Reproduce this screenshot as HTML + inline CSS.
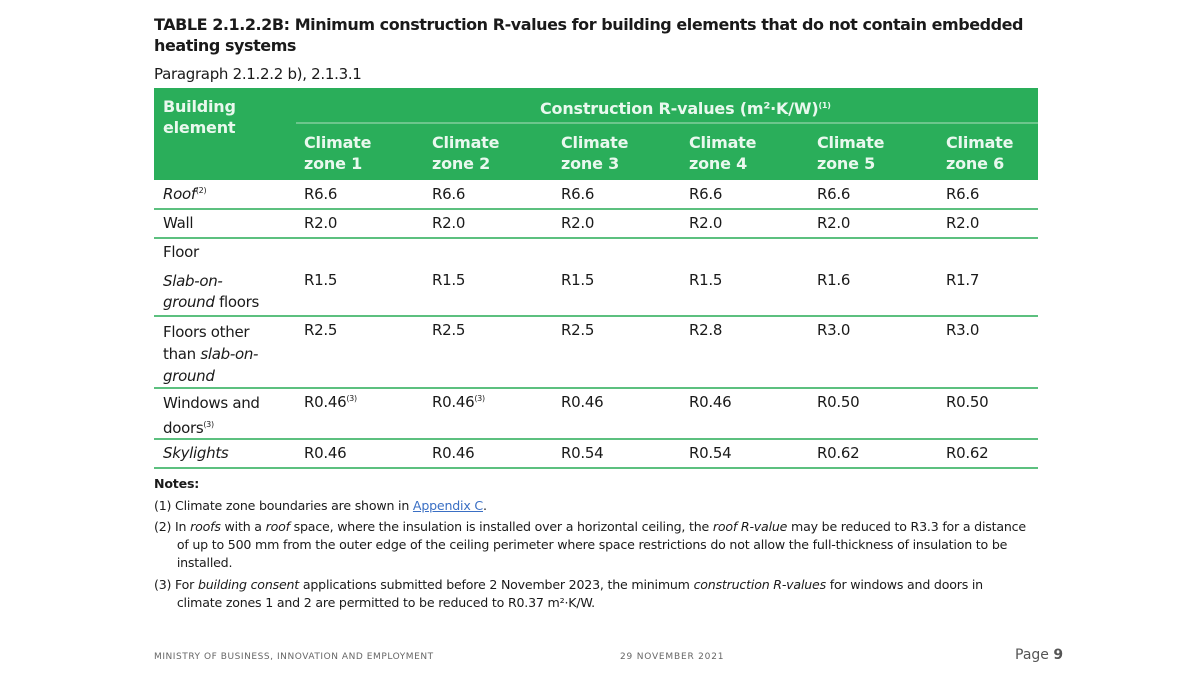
<!DOCTYPE html>
<html><head><meta charset="utf-8"><style>
body{margin:0;width:1200px;height:675px;background:#fff;font-family:"DejaVu Sans","Liberation Sans",sans-serif;color:#1a1a1a;position:relative;overflow:hidden}
.a{position:absolute;white-space:nowrap}
.t{font-size:15px;letter-spacing:-0.3px}
.h{font-size:16px;font-weight:bold;color:#e9f8ee;letter-spacing:-0.2px;line-height:21px}
.n{font-size:12.6px;letter-spacing:-0.2px}
.l{position:absolute;left:154px;width:884px;height:2px;background:#5cc07f}
sup{font-size:8px;vertical-align:6px}
</style></head><body>
<div class="a" style="left:154px;top:14px;font-size:16px;font-weight:bold;line-height:21px;letter-spacing:-0.45px">TABLE 2.1.2.2B: <span style="font-weight:600">Minimum construction R-values for building elements that do not contain embedded<br>heating systems</span></div>
<div class="a t" style="left:154px;top:65px">Paragraph 2.1.2.2 b), 2.1.3.1</div>
<div class="a" style="left:154px;top:88px;width:884px;height:92px;background:#2aae5a"></div>
<div class="a" style="left:296px;top:122px;width:742px;height:2px;background:#6cc68c"></div>
<div class="a h" style="left:163px;top:96px">Building<br>element</div>
<div class="a h" style="left:540px;top:95px">Construction R-values (m²·K/W)<sup>(1)</sup></div>
<div class="a h" style="left:304px;top:132px">Climate<br>zone 1</div>
<div class="a h" style="left:432px;top:132px">Climate<br>zone 2</div>
<div class="a h" style="left:561px;top:132px">Climate<br>zone 3</div>
<div class="a h" style="left:689px;top:132px">Climate<br>zone 4</div>
<div class="a h" style="left:817px;top:132px">Climate<br>zone 5</div>
<div class="a h" style="left:946px;top:132px">Climate<br>zone 6</div>
<div class="l" style="top:208px"></div><div class="l" style="top:237px"></div><div class="l" style="top:315px"></div><div class="l" style="top:387px"></div><div class="l" style="top:438px"></div><div class="l" style="top:467px"></div>
<div class="a t" style="left:163px;top:185px"><i>Roof</i><sup>(2)</sup></div>
<div class="a t" style="left:163px;top:214px">Wall</div>
<div class="a t" style="left:163px;top:243px">Floor</div>
<div class="a t" style="left:163px;top:271px;line-height:21px"><i>Slab-on-<br>ground</i> floors</div>
<div class="a t" style="left:163px;top:321px;line-height:22px">Floors other<br>than <i>slab-on-<br>ground</i></div>
<div class="a t" style="left:163px;top:393px;line-height:21px">Windows and<br>doors<sup>(3)</sup></div>
<div class="a t" style="left:163px;top:444px"><i>Skylights</i></div>
<div class="a t" style="left:304px;top:185px">R6.6</div><div class="a t" style="left:432px;top:185px">R6.6</div><div class="a t" style="left:561px;top:185px">R6.6</div><div class="a t" style="left:689px;top:185px">R6.6</div><div class="a t" style="left:817px;top:185px">R6.6</div><div class="a t" style="left:946px;top:185px">R6.6</div>
<div class="a t" style="left:304px;top:214px">R2.0</div><div class="a t" style="left:432px;top:214px">R2.0</div><div class="a t" style="left:561px;top:214px">R2.0</div><div class="a t" style="left:689px;top:214px">R2.0</div><div class="a t" style="left:817px;top:214px">R2.0</div><div class="a t" style="left:946px;top:214px">R2.0</div>
<div class="a t" style="left:304px;top:271px">R1.5</div><div class="a t" style="left:432px;top:271px">R1.5</div><div class="a t" style="left:561px;top:271px">R1.5</div><div class="a t" style="left:689px;top:271px">R1.5</div><div class="a t" style="left:817px;top:271px">R1.6</div><div class="a t" style="left:946px;top:271px">R1.7</div>
<div class="a t" style="left:304px;top:321px">R2.5</div><div class="a t" style="left:432px;top:321px">R2.5</div><div class="a t" style="left:561px;top:321px">R2.5</div><div class="a t" style="left:689px;top:321px">R2.8</div><div class="a t" style="left:817px;top:321px">R3.0</div><div class="a t" style="left:946px;top:321px">R3.0</div>
<div class="a t" style="left:304px;top:393px">R0.46<sup>(3)</sup></div><div class="a t" style="left:432px;top:393px">R0.46<sup>(3)</sup></div><div class="a t" style="left:561px;top:393px">R0.46</div><div class="a t" style="left:689px;top:393px">R0.46</div><div class="a t" style="left:817px;top:393px">R0.50</div><div class="a t" style="left:946px;top:393px">R0.50</div>
<div class="a t" style="left:304px;top:444px">R0.46</div><div class="a t" style="left:432px;top:444px">R0.46</div><div class="a t" style="left:561px;top:444px">R0.54</div><div class="a t" style="left:689px;top:444px">R0.54</div><div class="a t" style="left:817px;top:444px">R0.62</div><div class="a t" style="left:946px;top:444px">R0.62</div>
<div class="a n" style="left:154px;top:476px;font-weight:bold">Notes:</div>
<div class="a n" style="left:154px;top:498px">(1) Climate zone boundaries are shown in <span style="color:#3a6fc4;text-decoration:underline">Appendix C</span>.</div>
<div class="a n" style="left:154px;top:518px;line-height:18px">(2) In <i>roofs</i> with a <i>roof</i> space, where the insulation is installed over a horizontal ceiling, the <i>roof R-value</i> may be reduced to R3.3 for a distance<br>&nbsp;&nbsp;&nbsp;&nbsp;&nbsp;&nbsp;of up to 500 mm from the outer edge of the ceiling perimeter where space restrictions do not allow the full-thickness of insulation to be<br>&nbsp;&nbsp;&nbsp;&nbsp;&nbsp;&nbsp;installed.</div>
<div class="a n" style="left:154px;top:576px;line-height:18px">(3) For <i>building consent</i> applications submitted before 2 November 2023, the minimum <i>construction R-values</i> for windows and doors in<br>&nbsp;&nbsp;&nbsp;&nbsp;&nbsp;&nbsp;climate zones 1 and 2 are permitted to be reduced to R0.37 m²·K/W.</div>
<div class="a" style="left:154px;top:652px;font-size:9px;color:#666;letter-spacing:0.55px">MINISTRY OF BUSINESS, INNOVATION AND EMPLOYMENT</div>
<div class="a" style="left:620px;top:652px;font-size:9px;color:#666;letter-spacing:0.8px">29 NOVEMBER 2021</div>
<div class="a" style="left:1015px;top:647px;font-size:14px;color:#555">Page <b>9</b></div>
</body></html>
